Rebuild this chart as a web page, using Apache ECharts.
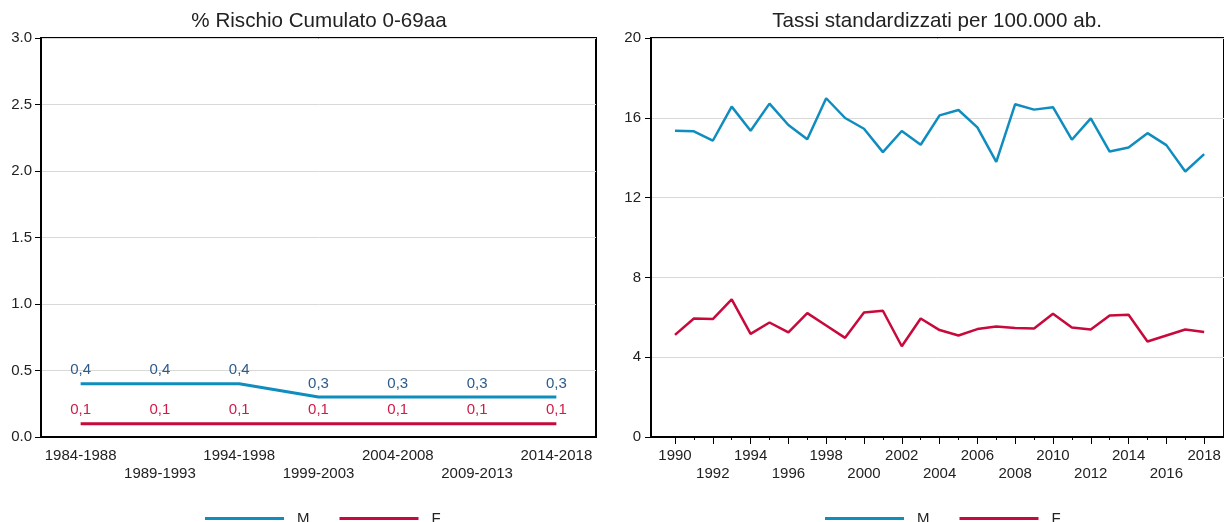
<!DOCTYPE html>
<html>
<head>
<meta charset="UTF-8">
<script src="https://cdn.jsdelivr.net/npm/echarts@6/dist/echarts.min.js"></script>
<style>
    html, body {margin: 0; padding: 0; background: #fff;}
    #main {width: 1224px; height: 522px;}
</style>
</head>
<body>
<div id="main"></div>
<script>
    /* dati grafico sinistro: rischio cumulato per quinquennio */
    var periodi = ['1984-1988', '1989-1993', '1994-1998', '1999-2003', '2004-2008', '2009-2013', '2014-2018'];
    var rischioM = [0.4, 0.4, 0.4, 0.3, 0.3, 0.3, 0.3];
    var rischioF = [0.1, 0.1, 0.1, 0.1, 0.1, 0.1, 0.1];

    /* dati grafico destro: tassi standardizzati per anno */
    var anni = [1990, 1991, 1992, 1993, 1994, 1995, 1996, 1997, 1998, 1999, 2000, 2001, 2002, 2003, 2004,
        2005, 2006, 2007, 2008, 2009, 2010, 2011, 2012, 2013, 2014, 2015, 2016, 2017, 2018];
    var tassiM = [15.35, 15.32, 14.85, 16.56, 15.35, 16.71, 15.64, 14.92, 16.98, 15.99, 15.45, 14.28, 15.34, 14.65, 16.12,
        16.39, 15.52, 13.79, 16.68, 16.41, 16.53, 14.90, 15.97, 14.31, 14.51, 15.23, 14.63, 13.31, 14.18];
    var tassiF = [5.12, 5.94, 5.91, 6.90, 5.17, 5.74, 5.24, 6.21, 5.59, 4.97, 6.24, 6.33, 4.55, 5.94, 5.36,
        5.09, 5.41, 5.54, 5.46, 5.44, 6.18, 5.49, 5.39, 6.09, 6.13, 4.79, 5.09, 5.39, 5.26];

    var coloreM = '#108dbf';
    var coloreF = '#c7093b';
    var font = 'Liberation Sans, Arial, sans-serif';

    var anniPari = anni.filter(function (a) { return a % 2 === 0; });
    var anniDispari = anni.filter(function (a) { return a % 2 === 1; });

    var assey = {
        axisLine: {show: true, lineStyle: {color: '#000', width: 2}},
        axisTick: {show: true, length: 6, lineStyle: {color: '#000'}},
        splitLine: {show: true, lineStyle: {color: '#d9d9d9', width: 1}},
        axisLabel: {color: '#222', fontSize: 15, fontFamily: font, margin: 9}
    };

    var stileTitolo = {fontSize: 20.6, fontWeight: 'normal', color: '#222', fontFamily: font};
    var stileLegenda = {fontSize: 15, color: '#222', fontFamily: font, padding: [0, 0, 0, 8]};

    var chart = echarts.init(document.getElementById('main'));
    var option = {
        animation: false,
        backgroundColor: '#fff',
        textStyle: {fontFamily: font},
        title: [
            {text: '% Rischio Cumulato 0-69aa', left: 314, top: 6, textAlign: 'center', textStyle: stileTitolo},
            {text: 'Tassi standardizzati per 100.000 ab.', left: 932, top: 6, textAlign: 'center', textStyle: stileTitolo}
        ],
        legend: [
            {data: ['M', 'F'], left: 200, top: 506, icon: 'rect', itemWidth: 79, itemHeight: 3, itemGap: 30, textStyle: stileLegenda},
            {data: ['M', 'F'], left: 820, top: 506, icon: 'rect', itemWidth: 79, itemHeight: 3, itemGap: 30, textStyle: stileLegenda}
        ],
        grid: [
            {left: 41, right: 628, top: 38, bottom: 85, show: true, borderColor: '#000', borderWidth: 2},
            {left: 651, right: -2, top: 38, bottom: 85, show: true, borderColor: '#000', borderWidth: 2}
        ],
        xAxis: [{
            gridIndex: 0,
            type: 'category',
            data: periodi,
            boundaryGap: true,
            axisLine: {lineStyle: {color: '#000', width: 2}},
            axisTick: {alignWithLabel: true, length: 7, lineStyle: {color: '#000'}},
            axisLabel: {
                interval: 0, color: '#222', fontSize: 15, fontFamily: font, margin: 10, lineHeight: 18,
                formatter: function (v, i) { return i % 2 ? '\n' + v : v; }
            },
            splitLine: {show: false}
        }, {
            gridIndex: 1,
            type: 'value',
            position: 'bottom',
            min: 1988.73, max: 2019.05,
            axisLine: {lineStyle: {color: '#000', width: 2}},
            axisTick: {length: 7, customValues: anniPari, lineStyle: {color: '#000'}},
            axisLabel: {
                customValues: anniPari, color: '#222', fontSize: 15, fontFamily: font, margin: 10, lineHeight: 18,
                formatter: function (v) { return v % 4 === 0 ? '\n' + v : '' + v; }
            },
            splitLine: {show: false}
        }, {
            gridIndex: 1,
            type: 'value',
            position: 'bottom',
            min: 1988.73, max: 2019.05,
            axisLine: {show: false},
            axisTick: {length: 3, customValues: anniDispari, lineStyle: {color: '#000'}},
            axisLabel: {show: false},
            splitLine: {show: false}
        }],
        yAxis: [
            echarts.util.merge({
                gridIndex: 0, type: 'value', min: 0, max: 3, interval: 0.5,
                axisLabel: {formatter: function (v) { return v.toFixed(1); }}
            }, assey, false),
            echarts.util.merge({
                gridIndex: 1, type: 'value', min: 0, max: 20, interval: 4,
                axisLabel: {margin: 10}
            }, assey, false)
        ],
        series: [{
            name: 'M', type: 'line', xAxisIndex: 0, yAxisIndex: 0,
            data: rischioM,
            symbol: 'circle', symbolSize: 0,
            lineStyle: {color: coloreM, width: 3},
            itemStyle: {color: coloreM},
            label: {
                show: true, position: 'top', distance: 6, color: '#2c5b8c', fontSize: 15, fontFamily: font,
                formatter: function (p) { return p.value.toFixed(1).replace('.', ','); }
            }
        }, {
            name: 'F', type: 'line', xAxisIndex: 0, yAxisIndex: 0,
            data: rischioF,
            symbol: 'circle', symbolSize: 0,
            lineStyle: {color: coloreF, width: 3},
            itemStyle: {color: coloreF},
            label: {
                show: true, position: 'top', distance: 6, color: '#d01a48', fontSize: 15, fontFamily: font,
                formatter: function (p) { return p.value.toFixed(1).replace('.', ','); }
            }
        }, {
            name: 'M', type: 'line', xAxisIndex: 1, yAxisIndex: 1,
            data: anni.map(function (a, i) { return [a, tassiM[i]]; }),
            showSymbol: false,
            lineStyle: {color: coloreM, width: 2.5},
            itemStyle: {color: coloreM}
        }, {
            name: 'F', type: 'line', xAxisIndex: 1, yAxisIndex: 1,
            data: anni.map(function (a, i) { return [a, tassiF[i]]; }),
            showSymbol: false,
            lineStyle: {color: coloreF, width: 2.5},
            itemStyle: {color: coloreF}
        }]
    };
    chart.setOption(option);
</script>
</body>
</html>
